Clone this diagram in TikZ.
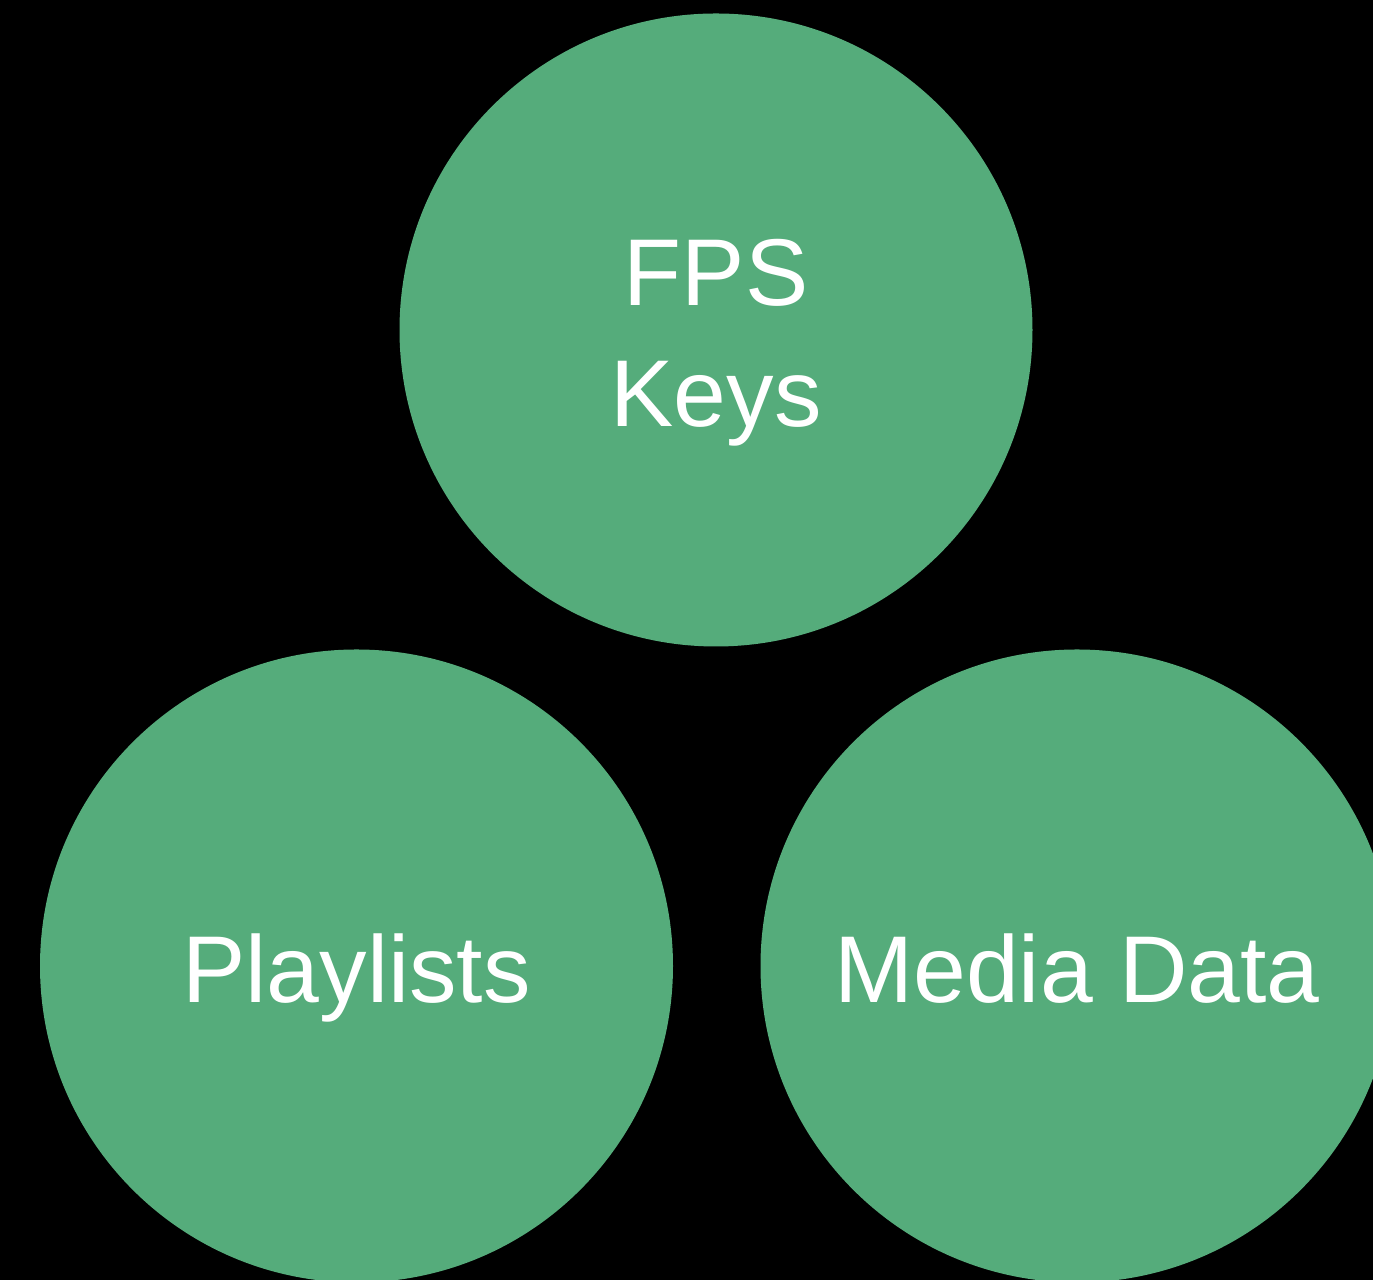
\documentclass[tikz,border=0pt]{standalone}
\usepackage{fontspec}
\setmainfont{Liberation Sans}
\definecolor{rondvert}{RGB}{85,172,123}

\begin{document}
\begin{tikzpicture}
\tikzset{rond/.style={circle, fill=rondvert, minimum size=6.33cm, inner sep=0pt,
  text=white, align=center, font=\fontsize{27}{34.7}\selectfont}}
\clip (0, 0) rectangle (13.73, -12.8);
\fill[black] (0, 0) rectangle (13.73, -12.8);
\node[rond, text height=1.94cm, text depth=0cm] (cles) at (7.16, -3.30) {FPS\\Keys};
\node[rond, text height=0.74cm, text depth=0cm] (listes) at (3.565, -9.66) {Playlists};
\node[rond, text height=0.74cm, text depth=0cm] (media) at (10.77, -9.66) {Media Data};
\end{tikzpicture}
\end{document}
